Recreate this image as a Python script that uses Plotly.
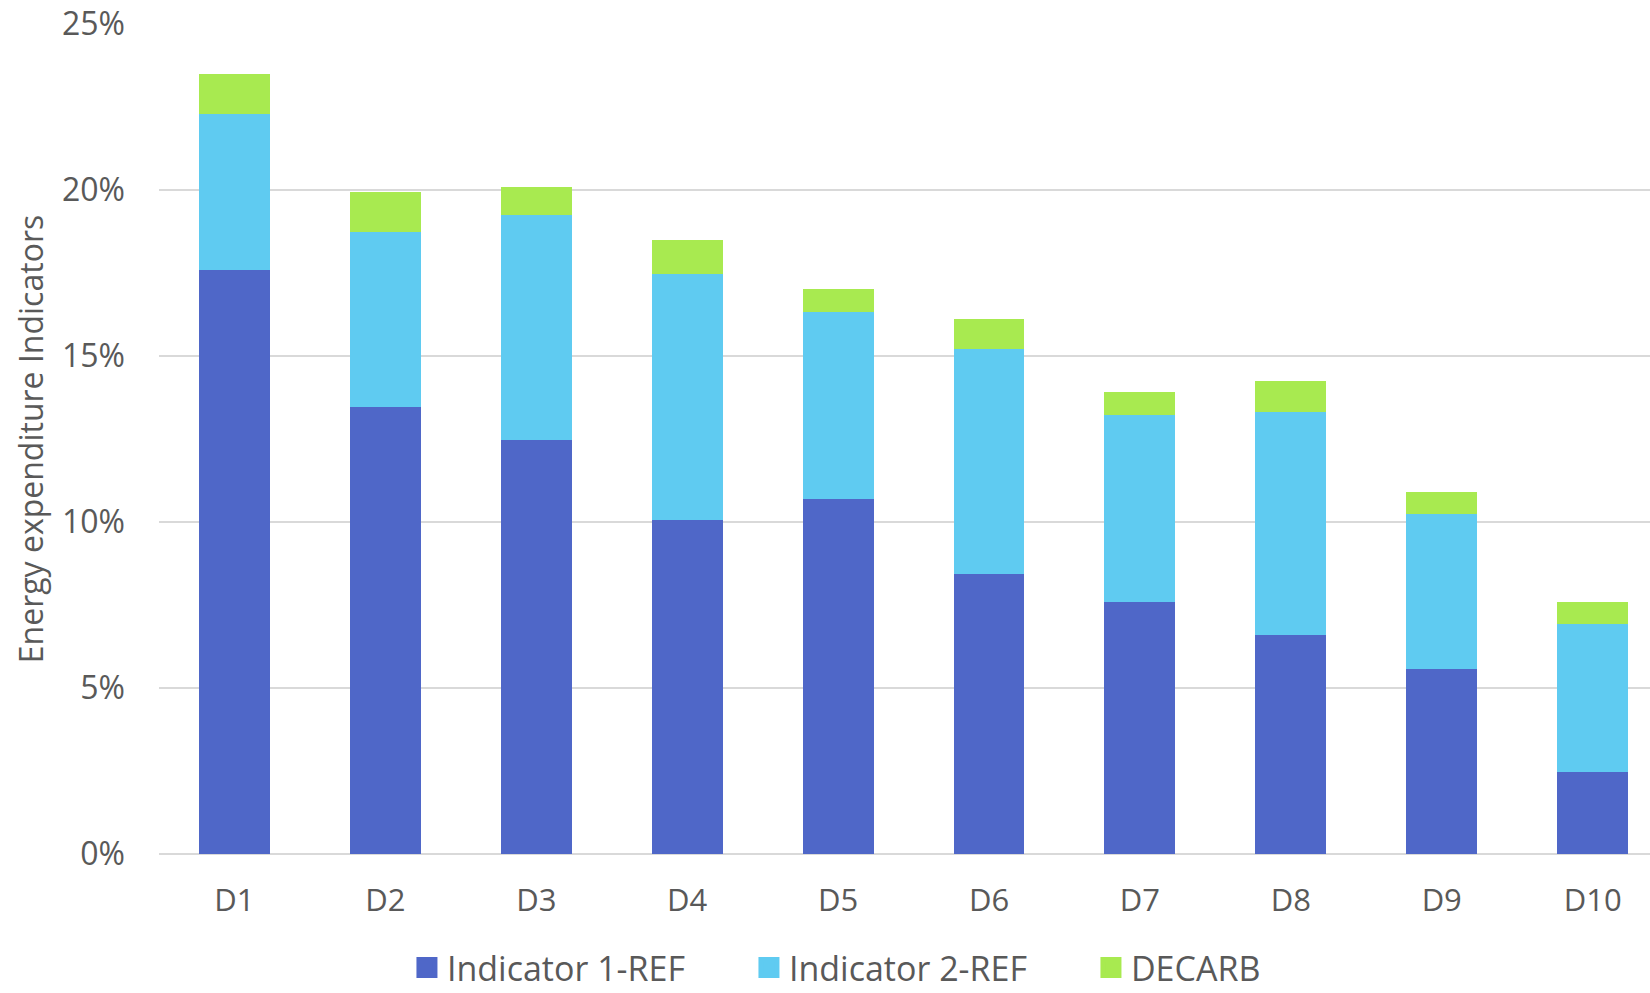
import plotly.graph_objects as go

categories = ["D1", "D2", "D3", "D4", "D5", "D6", "D7", "D8", "D9", "D10"]
indicator1_ref = [0.1758, 0.1346, 0.1247, 0.1005, 0.1070, 0.0844, 0.0758, 0.0659, 0.0557, 0.0246]
indicator2_ref = [0.0472, 0.0527, 0.0677, 0.0743, 0.0563, 0.0677, 0.0563, 0.0672, 0.0468, 0.0448]
decarb = [0.0119, 0.0120, 0.0084, 0.0100, 0.0069, 0.0090, 0.0070, 0.0095, 0.0064, 0.0064]
series_names = ["Indicator 1-REF", "Indicator 2-REF", "DECARB"]
y_tickvals = [0, 0.05, 0.10, 0.15, 0.20, 0.25]

colors = ["#4F67C8", "#5FCBF1", "#A8EA50"]
text_color = "#595959"
font_family = "Open Sans"

fig = go.Figure()
for name, vals, col in zip(series_names, [indicator1_ref, indicator2_ref, decarb], colors):
    fig.add_trace(go.Bar(x=categories, y=vals, name=name, marker_color=col,
                         marker_line_width=0, showlegend=False))
# legend entries with larger square swatches
for name, col in zip(series_names, colors):
    fig.add_trace(go.Scatter(x=[None], y=[None], mode="markers", name=name,
                             marker=dict(symbol="square", size=16, color=col,
                                         line=dict(color=col, width=5))))

fig.update_layout(
    width=1650, height=993,
    barmode="stack", bargap=0.53,
    paper_bgcolor="white", plot_bgcolor="white",
    margin=dict(l=159, r=0, t=24, b=139, autoexpand=False),
    font=dict(family=font_family, color=text_color, size=31),
    legend=dict(orientation="h", traceorder="normal",
                x=0.1663, xanchor="left", y=-0.1373, yanchor="middle",
                font=dict(size=34, color=text_color), entrywidth=297,
                entrywidthmode="pixels", bgcolor="rgba(0,0,0,0)"),
    xaxis=dict(range=[-0.5, 9.38], showgrid=False, showline=False, ticks="",
               tickfont=dict(size=31, color=text_color), ticklabelstandoff=25,
               zeroline=False),
    yaxis=dict(range=[0, 0.25], tickvals=y_tickvals, tickformat=".0%",
               showgrid=True, gridcolor="#D9D9D9", gridwidth=2,
               zeroline=True, zerolinecolor="#D9D9D9", zerolinewidth=2,
               showline=False, ticks="", ticklabelstandoff=33,
               tickfont=dict(size=32, color=text_color),
               title=dict(text="Energy expenditure Indicators",
                          font=dict(size=32, color=text_color), standoff=8)),
)

fig.write_html("out.html")
